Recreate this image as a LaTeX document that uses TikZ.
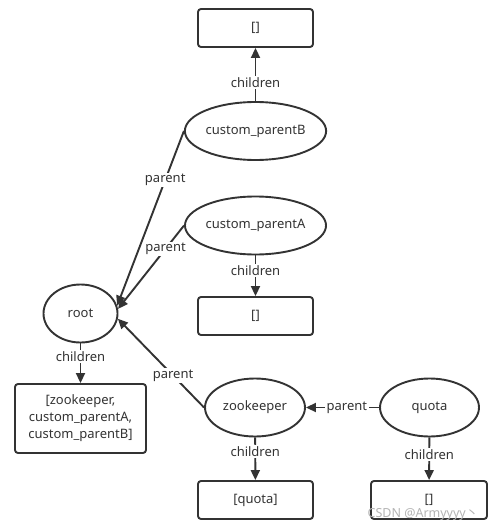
\documentclass[tikz,border=0pt]{standalone}
\usepackage{fontspec}
\setmainfont{Noto Sans}
\newfontfamily\cjkfont{Noto Sans CJK SC}
\usetikzlibrary{shapes.geometric,arrows.meta}
\definecolor{ink}{HTML}{333333}
\definecolor{wm}{HTML}{B4B4B4}
\begin{document}
\begin{tikzpicture}[x=1pt,y=-1pt,
  font=\fontsize{13}{15.5}\selectfont, text=ink,
  ell/.style={ellipse, draw=ink, line width=1.9pt, minimum width=#1, minimum height=58pt, inner sep=0pt},
  ell/.default=133pt,
  boxn/.style={draw=ink, line width=1.9pt, rounded corners=3pt, minimum width=115pt, minimum height=38pt, inner sep=0pt, align=center},
  conn/.style={draw=ink, line width=1.9pt, -{Triangle[length=10pt,width=9pt]}},
  lab/.style={fill=white, inner sep=1.5pt}]
\useasboundingbox (0,0) rectangle (499,532);
\fill[white] (0,0) rectangle (499,532);
% nodes
\node[boxn] (topbox) at (255.5,28) {[]};
\node[ell] (cpb) at (255.5,131) {custom\_parentB};
\node[ell] (cpa) at (255.5,225.5) {custom\_parentA};
\node[boxn] (abox) at (255.5,316) {[]};
\node[ell=74pt] (root) at (80.5,313.5) {root};
\node[boxn, minimum width=131pt, minimum height=69pt, font=\fontsize{13}{17}\selectfont] (rbox) at (80.5,418.5) {[zookeeper,\\custom\_parentA,\\custom\_parentB]};
\node[ell=100pt] (zk) at (255,407.5) {zookeeper};
\node[ell=99pt] (quota) at (429.5,407.5) {quota};
\node[boxn] (qbox) at (255.5,500) {[quota]};
\node[boxn, minimum width=116pt] (qcbox) at (429,500) {[]};
% connectors
\draw[conn] (cpb) -- node[lab, pos=0.35]{children} (topbox);
\draw[conn] (cpa) -- node[lab, pos=0.37]{children} (abox);
\draw[conn] (root) -- node[lab, pos=0.34]{children} (rbox);
\draw[conn] (zk) -- node[lab, pos=0.34]{children} (qbox);
\draw[conn] (quota) -- node[lab, pos=0.41]{children} (qcbox);
\draw[conn] (cpb.west) -- node[lab, pos=0.28]{parent} (root.12);
\draw[conn] (cpa.west) -- node[lab, pos=0.28]{parent} (root.7);
\draw[conn] (zk.west) -- node[lab, pos=0.36]{parent} (root.-8);
\draw[conn] (quota.west) -- node[lab, pos=0.44]{parent} (zk.east);
% watermark
\node[text=wm, font=\fontsize{12.5}{14}\selectfont, inner sep=0pt] (wmark) at (423,514) {CSDN @Armyyyy{\cjkfont 丶}};
\end{tikzpicture}
\end{document}
